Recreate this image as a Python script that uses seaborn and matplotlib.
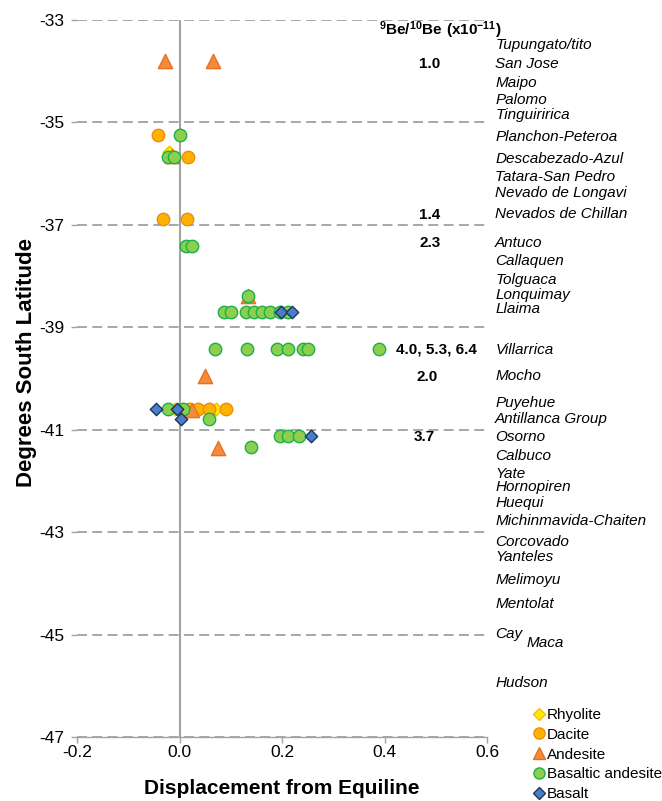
import matplotlib
matplotlib.use("Agg")
import matplotlib.pyplot as plt
import pandas as pd
import seaborn as sns
from matplotlib.lines import Line2D

# Displacement from the equiline (x) and latitude in degrees (y), one pair of lists per rock type
rhyolite_x = [-0.020, -0.008, 0.006, 0.020, 0.072]
rhyolite_y = [-35.57, -40.60, -40.60, -40.60, -40.60]

dacite_x = [-0.041, 0.016, -0.033, 0.014, 0.018, 0.037, 0.057, 0.090]
dacite_y = [-35.25, -35.68, -36.89, -36.89, -40.60, -40.60, -40.60, -40.60]

andesite_x = [-0.029, 0.066, -0.015, 0.133, 0.049, 0.025, 0.076]
andesite_y = [-33.81, -33.81, -35.66, -38.39, -39.95, -40.62, -41.35]

bas_andesite_x = [0.000, -0.023, -0.010, 0.012, 0.025, 0.133,
                  0.086, 0.101, 0.129, 0.146, 0.160, 0.177, 0.197, 0.211,
                  0.070, 0.131, 0.191, 0.211, 0.240, 0.250, 0.390,
                  -0.023, 0.006, 0.058, 0.197, 0.211, 0.234, 0.140]
bas_andesite_y = [-35.25, -35.68, -35.68, -37.41, -37.41, -38.38,
                  -38.70, -38.70, -38.70, -38.70, -38.70, -38.70, -38.70, -38.70,
                  -39.43, -39.43, -39.43, -39.43, -39.43, -39.43, -39.43,
                  -40.60, -40.60, -40.79, -41.13, -41.13, -41.13, -41.34]

basalt_x = [0.199, 0.220, -0.045, -0.004, 0.002, 0.257]
basalt_y = [-38.70, -38.70, -40.60, -40.60, -40.79, -41.13]

rock_types = ["Rhyolite", "Dacite", "Andesite", "Basaltic andesite", "Basalt"]

# Volcanic centres along the arc and their latitudes
volcano_names = ["Tupungato/tito", "San Jose", "Maipo", "Palomo", "Tinguiririca",
                 "Planchon-Peteroa", "Descabezado-Azul", "Tatara-San Pedro",
                 "Nevado de Longavi", "Nevados de Chillan", "Antuco", "Callaquen",
                 "Tolguaca", "Lonquimay", "Llaima", "Villarrica", "Mocho", "Puyehue",
                 "Antillanca Group", "Osorno", "Calbuco", "Yate", "Hornopiren",
                 "Huequi", "Michinmavida-Chaiten", "Corcovado", "Yanteles",
                 "Melimoyu", "Mentolat", "Cay", "Maca", "Hudson"]
volcano_lat = [-33.49, -33.86, -34.23, -34.56, -34.86, -35.29, -35.71, -36.07,
               -36.38, -36.79, -37.36, -37.71, -38.08, -38.37, -38.65, -39.45,
               -39.95, -40.48, -40.79, -41.14, -41.52, -41.87, -42.12, -42.43,
               -42.79, -43.20, -43.49, -43.94, -44.41, -44.99, -45.17, -45.95]

# 9Be/10Be ratios (x10^-11) and the latitude of the centre they belong to
ratio_labels = ["1.0", "1.4", "2.3", "4.0, 5.3, 6.4", "2.0", "3.7"]
ratio_lat = [-33.86, -36.81, -37.36, -39.43, -39.97, -41.14]

y_ticks = [-47, -45, -43, -41, -39, -37, -35, -33]
x_ticks = [-0.2, 0.0, 0.2, 0.4, 0.6]

frames = []
for rock, xs, ys in zip(rock_types,
                        [rhyolite_x, dacite_x, andesite_x, bas_andesite_x, basalt_x],
                        [rhyolite_y, dacite_y, andesite_y, bas_andesite_y, basalt_y]):
    frames.append(pd.DataFrame({"rock": rock, "disp": xs, "lat": ys}))
df = pd.concat(frames, ignore_index=True)

styles = {
    "Rhyolite":          dict(marker="D", face="#FFEA00", edge="#F5C000", s=42, lms=6),
    "Dacite":            dict(marker="o", face="#FFB300", edge="#EE8A10", s=80, lms=8),
    "Andesite":          dict(marker="^", face="#F28C3C", edge="#E57220", s=105, lms=8.5),
    "Basaltic andesite": dict(marker="o", face="#8ACF4E", edge="#1FAE4A", s=80, lms=8),
    "Basalt":            dict(marker="D", face="#4A7EC6", edge="#1F3460", s=40, lms=6),
}

sns.set_theme(style="white")
plt.rcParams["font.family"] = ["Liberation Sans", "DejaVu Sans"]
plt.rcParams["axes.unicode_minus"] = False
plt.rcParams["mathtext.fontset"] = "custom"
plt.rcParams["mathtext.rm"] = "Liberation Sans"
plt.rcParams["mathtext.bf"] = "Liberation Sans:bold"
for key in ["text.color", "axes.labelcolor", "xtick.labelcolor", "ytick.labelcolor"]:
    plt.rcParams[key] = "black"

fig = plt.figure(figsize=(6.62, 8.01), dpi=100)
ax = fig.add_axes([77 / 662, 1 - 737 / 801, 410 / 662, 717 / 801])

ax.axvline(0, color="#a3a3a3", lw=1.5, zorder=1.5)

for z, rock in enumerate(rock_types):
    st = styles[rock]
    sns.scatterplot(data=df[df["rock"] == rock], x="disp", y="lat", ax=ax,
                    marker=st["marker"], color=st["face"], edgecolor=st["edge"],
                    s=st["s"], linewidth=1.0, legend=False, zorder=3 + z * 0.1)

ax.set_xlim(-0.2, 0.6)
ax.set_ylim(-47, -33)
ax.set_xticks(x_ticks)
ax.set_xticklabels([f"{v:.1f}" for v in x_ticks])
ax.set_yticks(y_ticks)
ax.set_yticklabels([str(v) for v in y_ticks])

ax.yaxis.grid(True, color="#8f8f8f", lw=1.1, linestyle=(0, (6.5, 3.5)))
ax.xaxis.grid(False)
ax.set_axisbelow(True)

for side in ["top", "right", "left"]:
    ax.spines[side].set_visible(False)
ax.spines["bottom"].set_color("#a3a3a3")
ax.spines["bottom"].set_linewidth(1.0)

ax.tick_params(axis="x", length=4, width=1, color="#a3a3a3", direction="out",
               labelsize=12.5, labelcolor="black", pad=1.5, bottom=True)
ax.tick_params(axis="y", length=4, width=1, color="#a3a3a3", direction="out",
               labelsize=12.5, labelcolor="black", pad=5, left=True)

ax.set_xlabel("Displacement from Equiline", fontsize=15, fontweight="bold",
              labelpad=14, color="black")
ax.set_ylabel("Degrees South Latitude", fontsize=16, fontweight="bold", color="black")
ax.yaxis.set_label_coords(-0.098, 0.523)

# volcano names to the right of the plot
name_x = 0.616
name_shift = {"Maca": 0.062}
for name, lat in zip(volcano_names, volcano_lat):
    ax.text(name_x + name_shift.get(name, 0.0), lat, name, fontsize=11,
            style="italic", ha="left", va="center", clip_on=False)

# beryllium ratio column
ratio_x = [0.489, 0.489, 0.489, 0.423, 0.483, 0.478]
ratio_ha = ["center", "center", "center", "left", "center", "center"]
for lab, lat, rx, ha in zip(ratio_labels, ratio_lat, ratio_x, ratio_ha):
    ax.text(rx, lat, lab, fontsize=11, fontweight="bold", ha=ha, va="center",
            clip_on=False)
ax.text(0.509, -33.2, r"$\mathbf{^{9}Be/^{10}Be\ (x10^{-11})}$", fontsize=11,
        ha="center", va="center", clip_on=False)

handles = [Line2D([], [], linestyle="none", marker=styles[r]["marker"],
                  markerfacecolor=styles[r]["face"], markeredgecolor=styles[r]["edge"],
                  markersize=styles[r]["lms"], markeredgewidth=1.0, label=r)
           for r in rock_types]
fig.legend(handles=handles, loc="upper left", bbox_to_anchor=(534 / 662, 1 - 708 / 801),
           bbox_transform=fig.transFigure, frameon=False, fontsize=11,
           handlelength=0.6, handletextpad=0.25, labelspacing=0.38,
           borderpad=0, borderaxespad=0)

fig.savefig("out.png", dpi=100)
